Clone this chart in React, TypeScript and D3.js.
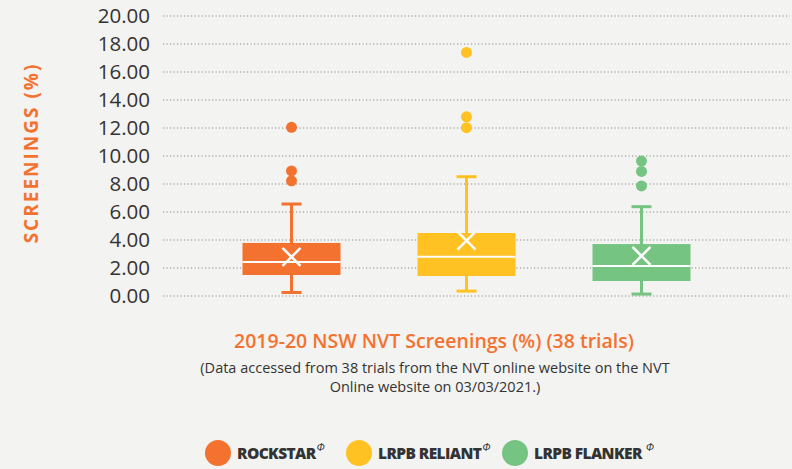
import React from 'react';
import * as d3 from 'd3';

const categories = ['ROCKSTAR', 'LRPB RELIANT', 'LRPB FLANKER'];
const colors = ['#F47230', '#FFC222', '#76C482'];
const mins = [0.25, 0.35, 0.14];
const q1s = [1.5, 1.43, 1.07];
const medians = [2.43, 2.8, 2.14];
const q3s = [3.79, 4.5, 3.71];
const maxs = [6.57, 8.52, 6.38];
const means = [2.79, 3.95, 2.86];
const outliers = [
  [12.05, 8.93, 8.23],
  [17.4, 12.8, 12.02],
  [9.64, 8.9, 7.86],
];
const yTicks = [0, 2, 4, 6, 8, 10, 12, 14, 16, 18, 20];

const W = 792;
const H = 469;
const font = '"Open Sans", "DejaVu Sans", sans-serif';
const textDark = '#333333';

const App: React.FC = () => {
  const y = d3.scaleLinear().domain([0, 20]).range([296, 16]);
  const x = d3.scaleBand<string>().domain(categories).range([204, 729]).padding(0);
  const boxW = x.bandwidth() * 0.56;
  const capW = 20;

  return (
    <svg width={W} height={H} style={{ display: 'block', position: 'absolute', left: 0, top: 0, background: '#F3F3F1' }}>
      <rect width={W} height={H} fill="#F3F3F1" />
      {/* grid + y labels */}
      {yTicks.map(t => (
        <g key={t}>
          <line x1={163} x2={790} y1={y(t)} y2={y(t)} stroke="#8a8a8a" strokeWidth={1} strokeDasharray="1.2,2.3" />
          <text x={150} y={y(t)} dy="0.36em" textAnchor="end" fontFamily={font} fontSize={20.5} fill={textDark}>
            {t.toFixed(2)}
          </text>
        </g>
      ))}
      <text
        transform={`translate(38,${153}) rotate(-90)`}
        textAnchor="middle"
        fontFamily={font}
        fontWeight={700}
        fontSize={19}
        letterSpacing={2}
        fill="#F47230"
      >
        SCREENINGS (%)
      </text>

      {/* boxes */}
      {categories.map((c, i) => {
        const cx = (x(c) as number) + x.bandwidth() / 2;
        const col = colors[i];
        return (
          <g key={c}>
            <line x1={cx} x2={cx} y1={y(maxs[i])} y2={y(mins[i])} stroke={col} strokeWidth={3} />
            <line x1={cx - capW / 2} x2={cx + capW / 2} y1={y(maxs[i])} y2={y(maxs[i])} stroke={col} strokeWidth={3} />
            <line x1={cx - capW / 2} x2={cx + capW / 2} y1={y(mins[i])} y2={y(mins[i])} stroke={col} strokeWidth={3} />
            <rect x={cx - boxW / 2} y={y(q3s[i])} width={boxW} height={y(q1s[i]) - y(q3s[i])} fill={col} />
            <line x1={cx - boxW / 2} x2={cx + boxW / 2} y1={y(medians[i])} y2={y(medians[i])} stroke="#fff" strokeWidth={2} />
            <g stroke="#fff" strokeWidth={2.5}>
              <line x1={cx - 9} x2={cx + 9} y1={y(means[i]) - 9} y2={y(means[i]) + 9} />
              <line x1={cx - 9} x2={cx + 9} y1={y(means[i]) + 9} y2={y(means[i]) - 9} />
            </g>
            {outliers[i].map((o, j) => (
              <circle key={j} cx={cx} cy={y(o)} r={5.5} fill={col} />
            ))}
          </g>
        );
      })}

      {/* titles */}
      <text x={434} y={348} textAnchor="middle" fontFamily={font} fontWeight={600} fontSize={19.5} fill="#F47230">
        2019-20 NSW NVT Screenings (%) (38 trials)
      </text>
      <text x={435} y={373} textAnchor="middle" fontFamily={font} fontSize={14.5} fill={textDark}>
        (Data accessed from 38 trials from the NVT online website on the NVT
      </text>
      <text x={435} y={392} textAnchor="middle" fontFamily={font} fontSize={14.5} fill={textDark}>
        Online website on 03/03/2021.)
      </text>

      {/* legend */}
      {categories.map((c, i) => {
        const lx = [218, 359, 515][i];
        return (
          <g key={c}>
            <circle cx={lx} cy={453} r={13} fill={colors[i]} />
            <text x={lx + 19} y={459} fontFamily={font} fontWeight={800} fontSize={15.5} fill={textDark} letterSpacing={-0.6}>
              {c}
              <tspan dy={-8} fontSize={11} fontWeight={400} fontStyle="italic" dx={c === 'LRPB FLANKER' ? 4 : 1}>Φ</tspan>
            </text>
          </g>
        );
      })}
    </svg>
  );
};

export default App;
